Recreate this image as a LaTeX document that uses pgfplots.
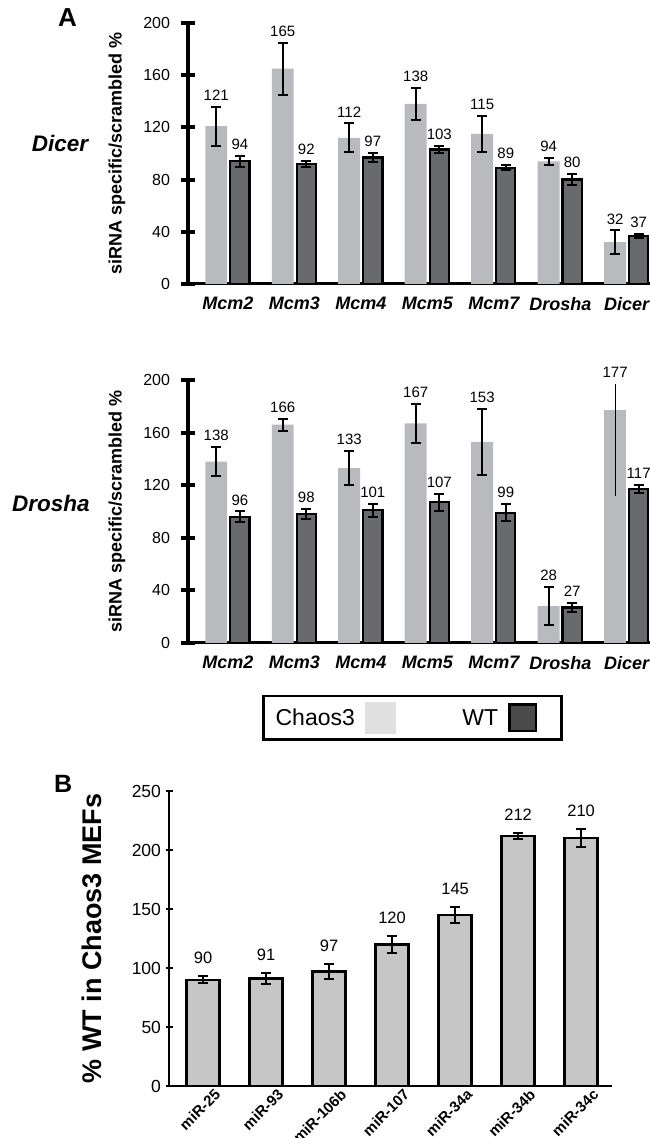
\documentclass[border=0pt]{standalone}
\usepackage{fontspec}
\setmainfont{Liberation Sans}
\usepackage{pgfplots}
\pgfplotsset{compat=1.18}
\definecolor{lightbar}{HTML}{B9BABD}
\definecolor{darkbar}{HTML}{696A6E}
\definecolor{bbar}{HTML}{C6C6C6}
\definecolor{leglight}{HTML}{E0E0E1}
\definecolor{legdark}{HTML}{4A4A4A}
\newcommand{\fs}[1]{\fontsize{#1}{#1}\selectfont}
\pgfplotsset{
 Astyle/.style={
  scale only axis, width=462pt,
  xmin=-0.6, xmax=6.35, ymin=0, ymax=200,
  axis x line*=bottom, axis y line*=left,
  x axis line style={line width=3pt,-}, y axis line style={line width=4.5pt,-},
  ytick={0,40,80,120,160,200}, yticklabels={0,40,80,120,160,200},
  xtick={0,...,6},
  xticklabels={Mcm2,Mcm3,Mcm4,Mcm5,Mcm7,Drosha,Dicer},
  x tick label style={font=\fs{18}\bfseries\itshape, yshift=-3pt},
  y tick label style={font=\fs{16}, xshift=-8pt},
  major x tick style={draw=none},
  major y tick style={line width=4pt, black},
  major tick length=13pt, tick align=center,
  ylabel={siRNA specific/scrambled \%},
  ylabel style={font=\fs{18}\bfseries, at={(axis description cs:-0.154,0.5)}, anchor=center},
  clip=false,
 },
 ebars/.style={error bars/.cd, y dir=both, y explicit,
   error bar style={draw=black, line width=2pt},
   error mark options={rotate=90, draw=black, line width=2pt, mark size=5pt}},
 lbar/.style={ybar, bar width=0.33, bar shift=0pt, fill=lightbar, draw=none, forget plot, ebars},
 dbar/.style={ybar, bar width=0.29, bar shift=0pt, fill=darkbar, draw=black, line width=2.2pt, forget plot, ebars},
 lab/.style={only marks, mark=*, mark size=0pt, forget plot, point meta=explicit symbolic,
   nodes near coords, nodes near coords style={font=\fs{15}, anchor=south, inner sep=1pt, yshift=5pt, text=black}},
}
\begin{document}
\begin{tikzpicture}
\path[use as bounding box] (0,0) rectangle (650pt,1138pt);
% ---------- Panel A, Dicer ----------
\begin{axis}[Astyle, height=261pt, at={(188pt,854pt)}, anchor=south west]
\addplot[lbar] coordinates {(-0.175,121) +- (0,15) (0.825,165) +- (0,20) (1.825,112) +- (0,11) (2.825,138) +- (0,12) (3.825,115) +- (0,13.5) (4.825,94) +- (0,2.5) (5.825,32) +- (0,9)};
\addplot[dbar] coordinates {(0.18,94) +- (0,4) (1.18,92) +- (0,2) (2.18,97) +- (0,3.5) (3.18,103) +- (0,3) (4.18,89) +- (0,2) (5.18,80) +- (0,4.5) (6.18,37) +- (0,1.5)};
\addplot[lab] coordinates {(-0.175,136)[121] (0.825,185)[165] (1.825,123)[112] (2.825,150)[138] (3.825,128.5)[115] (4.825,96.5)[94] (5.825,41)[32]};
\addplot[lab] coordinates {(0.18,98)[94] (1.18,94)[92] (2.18,100.5)[97] (3.18,106)[103] (4.18,91)[89] (5.18,84.5)[80] (6.18,38.5)[37]};
\node[font=\fs{22.5}\bfseries\itshape] at (axis description cs:-0.277,0.54) {Dicer};
\node[font=\fs{26}\bfseries] at (axis description cs:-0.261,1.021) {A};
\end{axis}
% ---------- Panel A, Drosha ----------
\begin{axis}[Astyle, height=263pt, at={(188pt,495pt)}, anchor=south west,
  legend plot pos=right,
  legend style={at={(axis description cs:0.486,-0.285)}, anchor=center, legend columns=2,
    draw=black, line width=2.5pt, font=\fs{23}, inner xsep=10pt, inner ysep=6pt,
    nodes={inner sep=2pt},
    /tikz/every odd column/.append style={column sep=8pt},
    /tikz/every even column/.append style={column sep=64pt}}]
\addplot[lbar] coordinates {(-0.175,138) +- (0,11) (0.825,166) +- (0,4.5) (1.825,133) +- (0,13) (2.825,167) +- (0,15) (3.825,153) +- (0,25) (4.825,28) +- (0,14.5)};
\addplot[ybar, bar width=0.33, bar shift=0pt, fill=lightbar, draw=none, forget plot,
   error bars/.cd, y dir=both, y explicit, error bar style={draw=black, line width=1pt}, error mark=none]
   coordinates {(5.825,177) += (0,20) -= (0,65)};
\addplot[dbar] coordinates {(0.18,96) +- (0,4) (1.18,98) +- (0,4) (2.18,101) +- (0,5) (3.18,107) +- (0,6.5) (4.18,99) +- (0,6.5) (5.18,27) +- (0,3.5) (6.18,117) +- (0,3)};
\addplot[lab] coordinates {(-0.175,149)[138] (0.825,170.5)[166] (1.825,146)[133] (2.825,182)[167] (3.825,178)[153] (4.825,42.5)[28] (5.825,197)[177]};
\addplot[lab] coordinates {(0.18,100)[96] (1.18,102)[98] (2.18,106)[101] (3.18,113.5)[107] (4.18,105.5)[99] (5.18,30.5)[27] (6.18,120)[117]};
\addlegendimage{legend image code/.code={\fill[leglight] (0pt,-14.5pt) rectangle (29pt,14.5pt);}}
\addlegendentry{Chaos3}
\addlegendimage{legend image code/.code={\draw[fill=legdark, draw=black, line width=2.5pt] (1.25pt,-13.25pt) rectangle (27.75pt,13.25pt); \path (42pt,0pt);}}
\addlegendentry{WT}
\node[font=\fs{22.5}\bfseries\itshape] at (axis description cs:-0.297,0.532) {Drosha};
\end{axis}
% ---------- Panel B ----------
\begin{axis}[scale only axis, width=443pt, height=295pt, at={(169pt,52pt)}, anchor=south west,
  xmin=-0.54, xmax=6.49, ymin=0, ymax=250,
  axis x line*=bottom, axis y line*=left,
  x axis line style={line width=2.2pt,-}, y axis line style={line width=2.2pt,-},
  ytick={0,50,100,150,200,250}, yticklabels={0,50,100,150,200,250},
  xtick={0,...,6},
  xticklabels={miR-25,miR-93,miR-106b,miR-107,miR-34a,miR-34b,miR-34c},
  x tick label style={font=\fs{15}\bfseries, rotate=45, anchor=north east, xshift=12pt, yshift=-3pt},
  y tick label style={font=\fs{17.5}, xshift=-1pt},
  major x tick style={draw=none},
  major y tick style={line width=2pt, black},
  major tick length=7pt, tick align=center,
  ylabel={\% WT in Chaos3 MEFs},
  ylabel style={font=\fs{27}\bfseries, at={(axis description cs:-0.174,0.5)}, anchor=center},
  clip=false]
\addplot[ybar, bar width=0.52, bar shift=0pt, fill=bbar, draw=black, line width=2.5pt, forget plot, ebars]
 coordinates {(0,90) +- (0,3) (1,91) +- (0,4.5) (2,97) +- (0,6.5) (3,120) +- (0,7.5) (4,145) +- (0,6.5) (5,212) +- (0,2.5) (6,210) +- (0,7.5)};
\addplot[lab, nodes near coords style={font=\fs{16.5}, yshift=6pt}] coordinates {(0,93)[90] (1,95.5)[91] (2,103.5)[97] (3,127.5)[120] (4,151.5)[145] (5,214.5)[212] (6,217.5)[210]};
\node[font=\fs{25}\bfseries] at (axis description cs:-0.239,1.025) {B};
\end{axis}
\end{tikzpicture}
\end{document}
